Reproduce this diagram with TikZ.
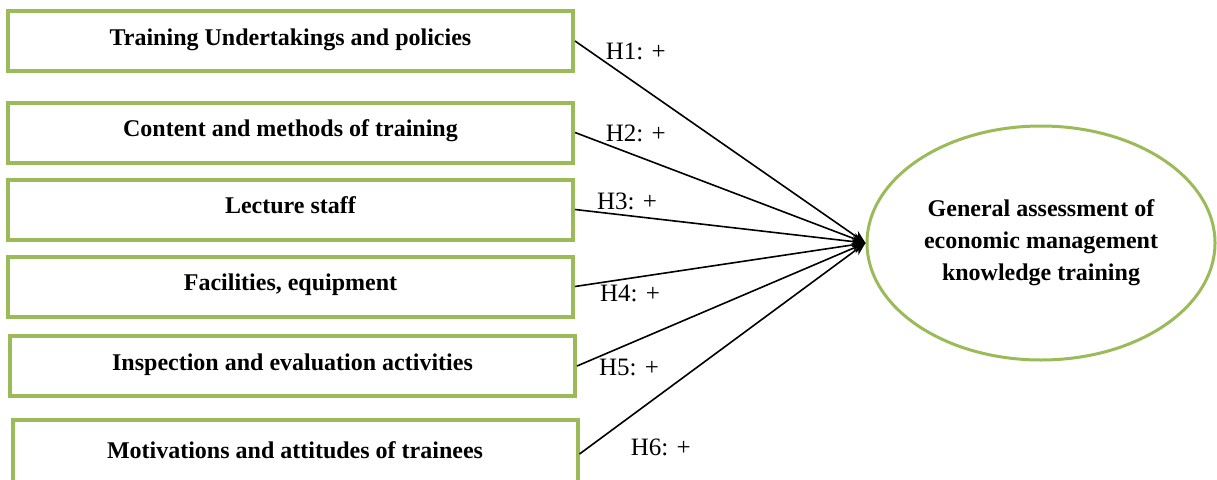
\documentclass[tikz,border=0pt]{standalone}
\usepackage{fontspec}
\setmainfont{Liberation Serif}
\usetikzlibrary{arrows, arrows.meta, shapes, positioning}
\definecolor{boxgreen}{HTML}{9BBB59}
\tikzstyle{arrow} = [line width=1.6pt,->,>={Stealth[length=13pt,width=11pt]}]
\tikzstyle{factor} = [draw=boxgreen, line width=4pt, minimum width=565pt, minimum height=60pt, text height=18pt, text depth=10pt, font=\fontsize{24}{28}\selectfont\bfseries]
\tikzstyle{hyp} = [font=\fontsize{25}{30}\selectfont, inner sep=1pt]

\begin{document}
\begin{tikzpicture}[x=1pt, y=1pt, node distance=13pt]
	\useasboundingbox (0,0) rectangle (1217,-479);
	\node[factor] at (290.5,-41)              (f1)   {Training Undertakings and policies};
	\node[factor, below=27.5pt of f1]         (f2)   {Content and methods of training};
	\node[factor, below=of f2]                (f3)   {Lecture staff};
	\node[factor, below=of f3]                (f4)   {Facilities, equipment};
	\node[factor, below=15.5pt of f4, xshift=2pt]  (f5) {Inspection and evaluation activities};
	\node[factor, below=20pt of f5, xshift=2.5pt, minimum height=68pt]  (f6) {Motivations and attitudes of trainees};
	\node[draw=boxgreen, line width=3pt, ellipse, minimum width=348pt, minimum height=234pt,
		align=center, font=\fontsize{24}{32}\selectfont\bfseries] at (1041,-243) (goal)
		{General assessment of\\economic management\\knowledge training};
	
	\draw[arrow] (f1.east) -- node[hyp, pos=0.1, above right] (h1) {H1: +} (goal.west);
	\draw[arrow] (f2.east) -- node[hyp, pos=0.1, above right] (h2) {H2: +} (goal.west);
	\draw[arrow] (f3.east) -- node[hyp, pos=0.07, above right] (h3) {H3: +} (goal.west);
	\draw[arrow] (f4.east) -- node[hyp, pos=0.08, below right] (h4) {H4: +} (goal.west);
	\draw[arrow] (f5.east) -- node[hyp, pos=0.07, below right] (h5) {H5: +} (goal.west);
	\draw[arrow] (f6.east) -- node[hyp, pos=0.1, anchor=west, xshift=21pt, yshift=-14pt] (h6) {H6: +} (goal.west);
\end{tikzpicture}
\end{document}
